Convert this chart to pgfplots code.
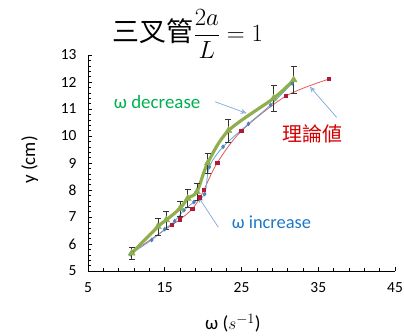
\documentclass[border=0pt]{standalone}
\usepackage{pgfplots}
\pgfplotsset{compat=1.18}
\usepackage{fontspec}
\setmainfont{Carlito}
\newfontfamily\cjk{Noto Sans CJK TC}
\usetikzlibrary{arrows.meta}

\definecolor{decgreen}{HTML}{8FAE4E}
\definecolor{declabel}{HTML}{00B050}
\definecolor{incblue}{HTML}{5FA8D8}
\definecolor{incmark}{HTML}{4F81BD}
\definecolor{inclabel}{HTML}{1E78C8}
\definecolor{theoline}{HTML}{E05A5A}
\definecolor{theomark}{HTML}{B5173A}
\definecolor{theolabel}{HTML}{D40000}
\definecolor{arrowblue}{HTML}{7FA7D9}

\begin{document}
\begin{tikzpicture}
\path[use as bounding box] (-88bp,-65bp) rectangle (316bp,271bp);
\begin{axis}[
  scale only axis,
  width=307bp, height=216bp,
  xmin=5, xmax=45, ymin=5, ymax=13,
  axis lines=left,
  axis line style={-, black, line width=0.8pt},
  xtick={5,15,...,45}, ytick={5,6,...,13},
  minor xtick={5,7,...,45},
  minor ytick={5,5.2,...,13},
  tick align=inside,
  major tick length=4bp, minor tick length=3bp,
  tick style={black, line width=0.6pt},
  /pgf/number format/assume math mode=true,
  ticklabel style={font=\fontsize{15.5}{16}\selectfont},
  xticklabel style={yshift=-8bp},
  yticklabel style={xshift=-8bp},
  xlabel={ω ($s^{-1}$)},
  ylabel={y (cm)},
  label style={font=\fontsize{19}{20}\selectfont},
  xlabel style={at={(axis description cs:0.472,0)}, anchor=center, yshift=-52bp},
  ylabel style={at={(axis description cs:-0.19,0.514)}, anchor=center, rotate=0},
  clip=false,
]
% theoretical values
\addplot[theoline, line width=0.8pt, smooth, mark=square*, mark size=1.7pt,
  mark options={fill=theomark, draw=theomark}] coordinates {
  (10.7,5.68) (15.9,6.70) (17.0,6.91) (18.6,7.30) (19.6,7.72) (20.1,8.00)
  (21.85,9.01) (25.0,10.19) (30.8,11.48) (36.4,12.11)
};
% omega increasing
\addplot[incblue, line width=0.8pt, smooth, mark=diamond*, mark size=1.8pt,
  mark options={fill=incmark, draw=incmark}] coordinates {
  (10.5,5.62) (13.3,6.15) (15.0,6.55) (16.3,6.85) (17.5,7.25) (18.8,7.55)
  (20.2,7.85) (20.8,8.85) (22.6,9.60) (25.9,10.45) (28.8,11.15) (31.6,11.95)
};
% omega decreasing, with error bars
\addplot[decgreen, line width=3.2pt, smooth, mark=triangle*, mark size=4pt,
  mark options={fill=decgreen, draw=decgreen, line width=0.4pt},
  error bars/.cd, y dir=both, y explicit,
  error bar style={black!80, line width=0.6pt},
  error mark options={rotate=90, mark size=3pt, black!80, line width=0.6pt}]
  coordinates {
  (10.7,5.66) +- (0,0.23)
  (14.1,6.64) +- (0,0.30)
  (15.2,6.89) +- (0,0.33)
  (17.0,7.32) +- (0,0.28)
  (18.0,7.69) +- (0,0.33)
  (19.2,7.94) +- (0,0.32)
  (20.6,9.00) +- (0,0.37)
  (23.3,10.20) +- (0,0.42)
  (29.2,11.40) +- (0,0.47)
  (31.8,12.08) +- (0,0.50)
};
% annotations
\node[declabel, font=\fontsize{19}{21}\selectfont] at (axis cs:14.0,11.26) {ω decrease};
\draw[arrowblue, line width=0.7pt, -{Stealth[open, length=6pt, width=5pt]}]
  (axis cs:21.55,11.27) -- (axis cs:25.68,10.84);
\node[theolabel, font=\cjk\fontsize{20}{22}\selectfont] at (axis cs:34.3,10.07) {理論値};
\draw[arrowblue, line width=0.7pt, -{Stealth[open, length=6pt, width=5pt]}]
  (axis cs:37.4,10.69) -- (axis cs:33.9,11.83);
\node[inclabel, font=\fontsize{18.5}{20}\selectfont] at (axis cs:28.9,6.81) {ω increase};
\draw[arrowblue, line width=0.7pt, -{Stealth[open, length=6pt, width=5pt]}]
  (axis cs:21.98,6.62) -- (axis cs:19.37,7.75);
\end{axis}
% title
\node[font=\fontsize{27}{30}\selectfont, anchor=center] at (100bp,237bp)
  {{\cjk 三叉管}$\displaystyle\frac{2a}{L}=1$};
\end{tikzpicture}
\end{document}
